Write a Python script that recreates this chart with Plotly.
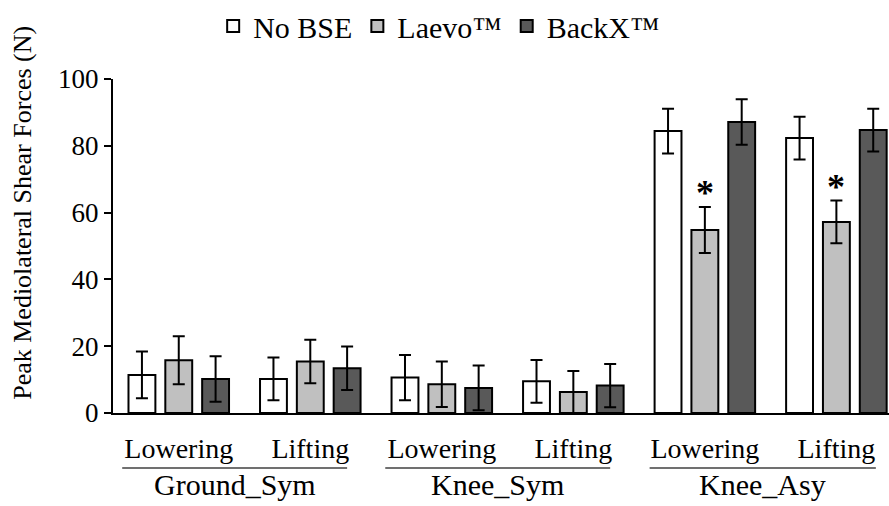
import plotly.graph_objects as go

conditions = ["Ground_Sym", "Knee_Sym", "Knee_Asy"]
phases = ["Lowering", "Lifting"]
series_names = ["No BSE", "Laevo™", "BackX™"]

no_bse = [11.4, 10.2, 10.6, 9.5, 84.4, 82.3]
no_bse_err = [7.0, 6.4, 6.8, 6.4, 6.7, 6.4]
laevo = [15.8, 15.4, 8.6, 6.3, 54.8, 57.2]
laevo_err = [7.2, 6.5, 6.8, 6.3, 6.9, 6.4]
backx = [10.2, 13.4, 7.5, 8.2, 87.1, 84.7]
backx_err = [6.8, 6.5, 6.7, 6.5, 6.8, 6.4]

significant = [False, False, False, False, True, True]  # Laevo vs No BSE

colors = ["#FFFFFF", "#C0C0C0", "#595959"]
FONT = "Liberation Serif"

x_idx = list(range(len(conditions) * len(phases)))
tick_text = [p for c in conditions for p in phases]

fig = go.Figure()
for name, vals, errs, col in zip(series_names, [no_bse, laevo, backx],
                                 [no_bse_err, laevo_err, backx_err], colors):
    fig.add_trace(go.Bar(
        x=x_idx, y=vals, name=name,
        marker=dict(color=col, line=dict(color="black", width=2)),
        error_y=dict(type="data", array=errs, color="black", thickness=2, width=6),
    ))

# significance asterisks above Laevo bars
for i, sig in enumerate(significant):
    if sig:
        fig.add_annotation(x=x_idx[i], y=laevo[i] + laevo_err[i], xref="x", yref="y",
                           text="<b>*</b>", showarrow=False, yanchor="bottom", yshift=-8,
                           font=dict(family=FONT, size=36, color="black"))

# group labels with underline
line_spans = [(-0.43, 1.28), (1.57, 3.28), (3.58, 5.30)]
for c, (x0, x1) in zip(conditions, line_spans):
    fig.add_shape(type="line", xref="x", yref="paper", x0=x0, x1=x1,
                  y0=-0.1647, y1=-0.1647, line=dict(color="#404040", width=1.5))
    fig.add_annotation(x=(x0 + x1) / 2, y=-0.214, xref="x", yref="paper",
                       text=c, showarrow=False, yanchor="middle",
                       font=dict(family=FONT, size=30, color="black"))

# y-axis title
fig.add_annotation(x=-0.117, y=0.60, xref="paper", yref="paper",
                   text="Peak Mediolateral Shear Forces (N)", textangle=-90,
                   showarrow=False, xanchor="center", yanchor="middle",
                   font=dict(family=FONT, size=26, color="black"))

fig.update_layout(
    width=889, height=506,
    margin=dict(l=113, r=0, t=79, b=93),
    paper_bgcolor="white", plot_bgcolor="white",
    barmode="group", bargap=0.16, bargroupgap=0.27,
    font=dict(family=FONT, size=26, color="black"),
    showlegend=True,
    legend=dict(orientation="h", x=0.494, xref="container", xanchor="center",
                y=1.0, yref="container", yanchor="top", borderwidth=0,
                font=dict(family=FONT, size=30, color="black"),
                bgcolor="rgba(0,0,0,0)"),
    xaxis=dict(range=[-0.5, 5.40], tickmode="array", tickvals=x_idx, ticktext=tick_text,
               showline=True, linecolor="black", linewidth=2, ticks="",
               showgrid=False, zeroline=False, ticklabelstandoff=9,
               tickfont=dict(family=FONT, size=28, color="black")),
    yaxis=dict(range=[0, 100], dtick=20, showline=True, linecolor="black", linewidth=2,
               ticks="outside", ticklen=7, tickwidth=2, tickcolor="black",
               showgrid=False, zeroline=False,
               tickfont=dict(family=FONT, size=27, color="black")),
)

fig.write_html("out.html")
